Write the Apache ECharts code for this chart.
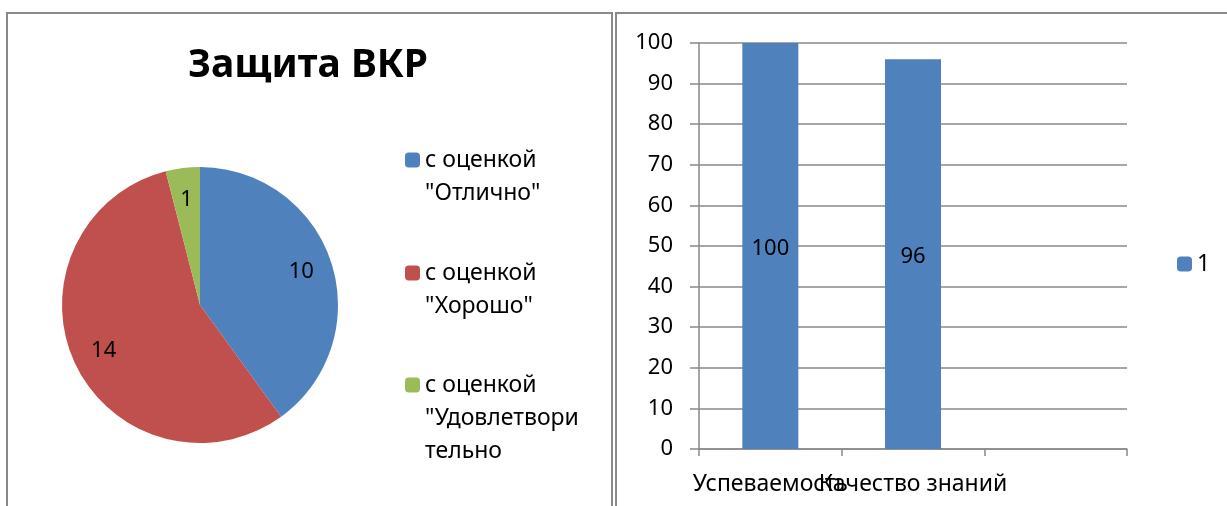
<!DOCTYPE html>
<html>
<head>
<meta charset="utf-8">
<script src="https://cdn.jsdelivr.net/npm/echarts@6/dist/echarts.min.js"></script>
<style>
  html, body { margin: 0; padding: 0; background: #fff; }
  #chart { width: 1227px; height: 506px; }
</style>
</head>
<body>
<div id="chart"></div>
<script>
// Pie: "Защита ВКР"
const pieTitle = 'Защита ВКР';
const pieNames = ['с оценкой\n"Отлично"', 'с оценкой\n"Хорошо"', 'с оценкой\n"Удовлетвори\nтельно'];
const pieValues = [10, 14, 1];
const pieColors = ['#4F81BD', '#C0504D', '#9BBB59'];

// Bar chart
const barCategories = ['Успеваемость', 'Качество знаний', ''];
const barValues = [100, 96, '-'];
const barSeriesName = '1';
const yMin = 0, yMax = 100, yStep = 10;

const font = 'Noto Sans';
const gray = '#898989';
const lineH = 33;

const chart = echarts.init(document.getElementById('chart'));

const pieData = pieNames.map((name, i) => ({
  name: name,
  value: pieValues[i],
  itemStyle: { color: pieColors[i] }
}));

// first line centre of each legend entry; blank lines in front keep the
// marker level with the first line (legend centres the text block on it)
const legendFirstLine = [160, 273, 385];
const pieLegends = pieNames.map((name, i) => {
  const lines = name.split('\n').length;
  return {
    orient: 'vertical',
    left: 405,
    top: legendFirstLine[i] - (lines - 1) * lineH - lineH / 2,
    padding: 0,
    itemWidth: 15,
    itemHeight: 15,
    selectedMode: false,
    data: [name],
    formatter: n => '\n'.repeat(lines - 1) + n,
    textStyle: { fontFamily: font, fontSize: 23, lineHeight: lineH, color: '#000' }
  };
});

const options = {
  animation: false,
  textStyle: { fontFamily: font },
  title: {
    text: pieTitle,
    left: 303,
    top: 41,
    textAlign: 'center',
    textStyle: { fontFamily: font, fontSize: 39, fontWeight: 'bold', color: '#000' }
  },
  graphic: [
    { type: 'rect', shape: { x: 7, y: 13, width: 605, height: 520 },
      style: { fill: 'none', stroke: gray, lineWidth: 2 } },
    { type: 'rect', shape: { x: 616, y: 13, width: 640, height: 520 },
      style: { fill: 'none', stroke: gray, lineWidth: 2 } }
  ],
  legend: pieLegends.concat([{
    left: 1177,
    top: 251,
    padding: 0,
    itemWidth: 15,
    itemHeight: 15,
    selectedMode: false,
    data: [barSeriesName],
    textStyle: { fontFamily: font, fontSize: 23, lineHeight: 26, color: '#000' }
  }]),
  grid: { left: 699, top: 43, width: 428, height: 406 },
  xAxis: {
    type: 'category',
    data: barCategories,
    axisLine: { lineStyle: { color: gray, width: 1.5 } },
    axisTick: { show: true, length: 7, interval: 0, lineStyle: { color: gray, width: 1.5 } },
    axisLabel: { interval: 0, margin: 24, fontFamily: font, fontSize: 23, color: '#000' }
  },
  yAxis: {
    type: 'value',
    min: yMin,
    max: yMax,
    interval: yStep,
    axisLine: { show: true, lineStyle: { color: gray, width: 1.5 } },
    axisTick: { show: true, length: 9, lineStyle: { color: gray, width: 1.5 } },
    splitLine: { lineStyle: { color: gray, width: 1.5 } },
    axisLabel: { margin: 26, fontFamily: font, fontSize: 22, color: '#000' }
  },
  series: [
    {
      name: 'pie',
      type: 'pie',
      center: [200, 305],
      radius: 138,
      startAngle: 90,
      clockwise: true,
      label: { show: false },
      labelLine: { show: false },
      emphasis: { disabled: true },
      data: pieData
    },
    {
      // invisible twin, only used to push the value labels outward
      name: 'pieLabels',
      type: 'pie',
      center: [200, 305],
      radius: 207,
      startAngle: 90,
      clockwise: true,
      silent: true,
      itemStyle: { color: 'transparent' },
      label: { show: true, position: 'inside', formatter: '{c}', fontFamily: font, fontSize: 22, color: '#000' },
      labelLine: { show: false },
      emphasis: { disabled: true },
      data: pieNames.map((name, i) => ({ name: name, value: pieValues[i] }))
    },
    {
      name: barSeriesName,
      type: 'bar',
      barWidth: 56,
      itemStyle: { color: '#4F81BD' },
      label: { show: true, position: 'inside', fontFamily: font, fontSize: 22, color: '#000', offset: [0, 3] },
      data: barValues
    }
  ]
};

chart.setOption(options);
</script>
</body>
</html>
